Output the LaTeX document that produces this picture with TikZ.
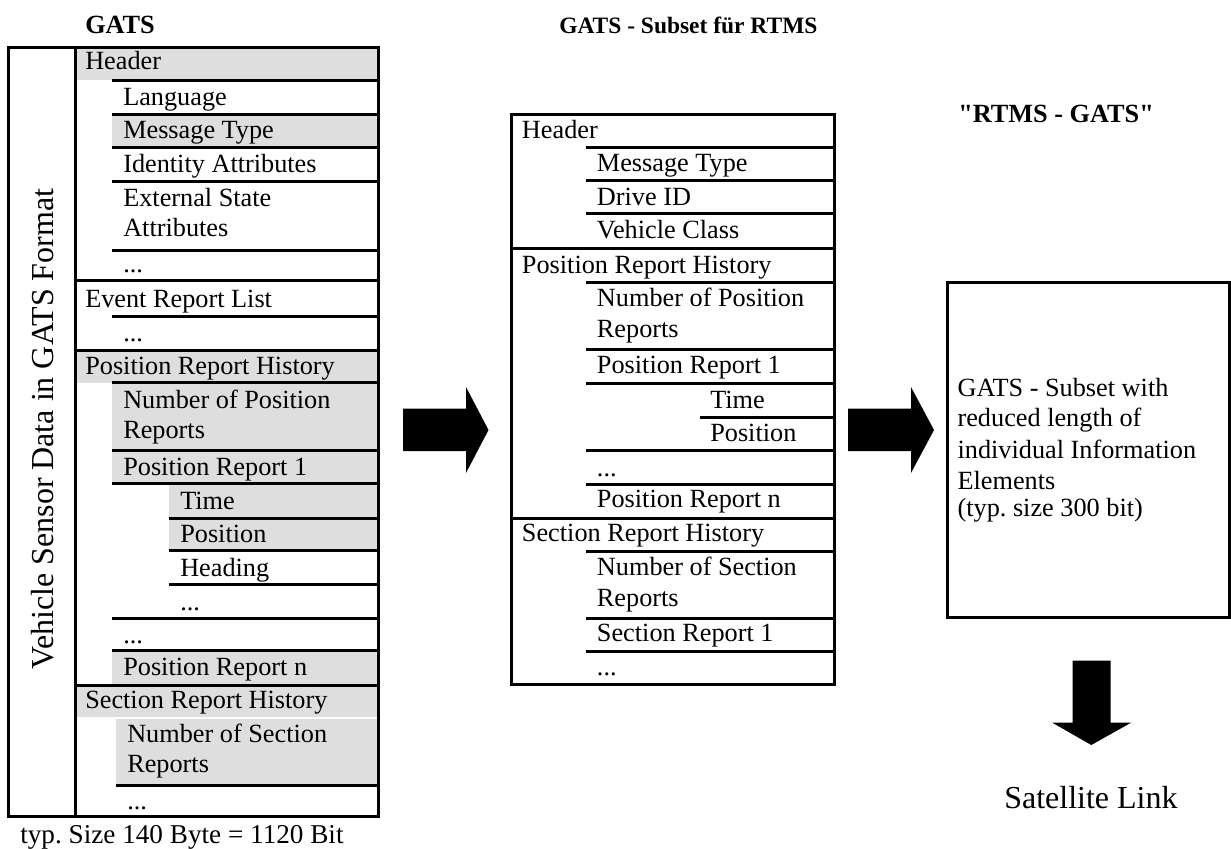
\documentclass[tikz,border=0pt]{standalone}
\usepackage{fontspec}
\setmainfont{Liberation Serif}
\setmonofont{Liberation Serif}
\frenchspacing
\definecolor{cellgray}{RGB}{222,222,222}
\newcommand\bodyfont{\fontsize{19.7}{22}\selectfont}
\newcommand\subtitlefont{\fontsize{17.6}{20}\selectfont}
\newcommand\bigfont{\fontsize{24}{28}\selectfont}
\newcommand\notefont{\fontsize{20.4}{24}\selectfont}
\newcommand\straightq{{\ttfamily\bfseries"}}
\begin{document}
\begin{tikzpicture}[x=0.75pt,y=-0.75pt,
  lbl/.style={anchor=base west, inner sep=0pt, font=\bodyfont},
  ttl/.style={anchor=base west, inner sep=0pt, font=\bodyfont\bfseries},
  rule/.style={line width=2.25pt},
  frame/.style={line width=2.25pt},
  shade/.style={fill=cellgray},
  blockarrow/.style={fill=black}]
\useasboundingbox (0,0) rectangle (1231,849);

% ---------------- titles
\node[ttl] (t1) at (85,34) {GATS};
\node[ttl, font=\subtitlefont\bfseries] (t2) at (559,34) {GATS - Subset für RTMS};
\node[ttl] (t3) at (958,122.7) {\straightq RTMS - GATS\straightq};

% ---------------- left table: grey cells
\fill[shade] (75,47) rectangle (378,80);
\fill[shade] (112,114) rectangle (378,147);
\fill[shade] (75,350) rectangle (378,383);
\fill[shade] (112,383) rectangle (378,450);
\fill[shade] (112,450) rectangle (378,483);
\fill[shade] (169,483) rectangle (378,518);
\fill[shade] (169,518) rectangle (378,551);
\fill[shade] (112,651) rectangle (378,685);
\fill[shade] (75,685) rectangle (378,717);
\fill[shade] (116,719) rectangle (378,784);

% left table rules
\foreach \y in {80.7,114,147.3,181.7,250,316.5,382.7,450,483.3,618.3,650.7}
  \draw[rule] (112,\y) -- (378,\y);
\foreach \y in {518,550.7,584.5}
  \draw[rule] (169,\y) -- (378,\y);
\foreach \y in {280.7,350,685.3}
  \draw[rule] (75,\y) -- (378,\y);
\draw[rule] (116,785) -- (378,785);
\draw[frame] (75,47.5) -- (75,816.5);
\draw[frame] (8.5,47.5) rectangle (378,816.5);

% left table texts
\node[lbl] (l1) at (85,69.5) {Header};
\node[lbl] (l2) at (123,105) {Language};
\node[lbl] (l3) at (123,138) {Message Type};
\node[lbl] (l4) at (123,172) {Identity Attributes};
\node[lbl] (l5a) at (123,206.5) {External State};
\node[lbl] (l5b) at (123,236) {Attributes};
\node[lbl] (l6) at (123,272) {...};
\node[lbl] (l7) at (85,307) {Event Report List};
\node[lbl] (l8) at (123,341) {...};
\node[lbl] (l9) at (85,374.5) {Position Report History};
\node[lbl] (l10a) at (123,408) {Number of Position};
\node[lbl] (l10b) at (123,438) {Reports};
\node[lbl] (l11) at (123,475) {Position Report 1};
\node[lbl] (l12) at (180,509.5) {Time};
\node[lbl] (l13) at (180,542.5) {Position};
\node[lbl] (l14) at (180,576) {Heading};
\node[lbl] (l15) at (180,610) {...};
\node[lbl] (l16) at (123,643) {...};
\node[lbl] (l17) at (123,675.5) {Position Report n};
\node[lbl] (l18) at (85,708.5) {Section Report History};
\node[lbl] (l19a) at (127,742) {Number of Section};
\node[lbl] (l19b) at (127,772.5) {Reports};
\node[lbl] (l20) at (127,809) {...};

\node[inner sep=0pt, font=\bigfont, rotate=90] (vtext) at (43,429) {Vehicle Sensor Data in GATS Format};
\node[anchor=base west, inner sep=0pt, font=\notefont] (size1) at (20,843) {typ. Size 140 Byte = 1120 Bit};

% ---------------- middle table
\foreach \y in {147.3,180,213.3,282.7,349.3,383.3,450,484,551.7,618.3,651.7}
  \draw[rule] (586,\y) -- (834,\y);
\draw[rule] (700,417.3) -- (834,417.3);
\foreach \y in {248.3,518.3}
  \draw[rule] (511.5,\y) -- (834,\y);
\draw[frame] (511.5,114.5) rectangle (834,684);

\node[lbl] (m1) at (521.7,138.3) {Header};
\node[lbl] (m2) at (596.7,171.7) {Message Type};
\node[lbl] (m3) at (596.7,205) {Drive ID};
\node[lbl] (m4) at (596.7,238.5) {Vehicle Class};
\node[lbl] (m5) at (521.7,273.3) {Position Report History};
\node[lbl] (m6a) at (596.7,306.7) {Number of Position};
\node[lbl] (m6b) at (596.7,337.5) {Reports};
\node[lbl] (m7) at (596.7,373.5) {Position Report 1};
\node[lbl] (m8) at (710,408.3) {Time};
\node[lbl] (m9) at (710,441.5) {Position};
\node[lbl] (m10) at (596.7,476.5) {...};
\node[lbl] (m11) at (596.7,507.5) {Position Report n};
\node[lbl] (m12) at (521.7,541.7) {Section Report History};
\node[lbl] (m13a) at (596.7,575) {Number of Section};
\node[lbl] (m13b) at (596.7,606) {Reports};
\node[lbl] (m14) at (596.7,641.7) {Section Report 1};
\node[lbl] (m15) at (596.7,675) {...};

% ---------------- right box
\draw[frame] (947,282.5) rectangle (1229,617);
\node[lbl] (r1) at (957.3,396.7) {GATS - Subset with};
\node[lbl] (r2) at (957.3,426.7) {reduced length of};
\node[lbl] (r3) at (957.3,458.2) {individual Information};
\node[lbl] (r4) at (957.3,489) {Elements};
\node[lbl] (r5) at (957.3,516.7) {(typ. size 300 bit)};

% ---------------- block arrows
\fill[blockarrow] (403,408.5) -- (466,408.5) -- (466,387) -- (488.5,430) -- (466,473) -- (466,451) -- (403,451) -- cycle;
\fill[blockarrow] (848,408.5) -- (911,408.5) -- (911,387) -- (934,430) -- (911,473) -- (911,451) -- (848,451) -- cycle;
\fill[blockarrow] (1072.7,660.7) -- (1110.7,660.7) -- (1110.7,722.7) -- (1131,722.7) -- (1091.3,745) -- (1052.3,722.7) -- (1072.7,722.7) -- cycle;

\node[anchor=base west, inner sep=0pt, font=\bigfont] (sat) at (1004,808) {Satellite Link};
\end{tikzpicture}
\end{document}
